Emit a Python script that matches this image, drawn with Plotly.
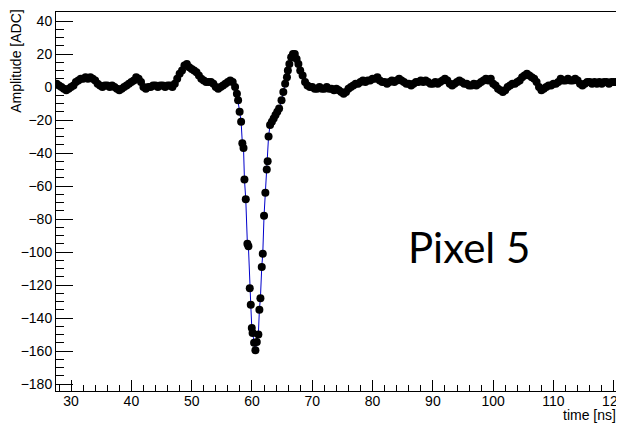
import plotly.graph_objects as go

# ---- data ----
time_pre = [27.6, 28.0, 28.4, 28.8, 29.2, 29.6, 30.0, 30.4, 30.8, 31.2, 31.6, 32.0, 32.4, 32.8, 33.2,
            33.6, 34.0, 34.4, 34.8, 35.2, 35.6, 36.0, 36.4, 36.8, 37.2, 37.6, 38.0, 38.4, 38.8, 39.2,
            39.6, 40.0, 40.4, 40.8, 41.2, 41.6, 42.0, 42.4, 42.8, 43.2, 43.6, 44.0, 44.4, 44.8, 45.2,
            45.6, 46.0, 46.4, 46.8, 47.2, 47.6, 48.0, 48.4, 48.8, 49.2, 49.6, 50.0, 50.4, 50.8, 51.2,
            51.6, 52.0, 52.4, 52.8, 53.2, 53.6, 54.0, 54.4, 54.8, 55.2, 55.6, 56.0, 56.4, 56.8, 57.2]
amp_pre = [2, 1, 0, -1, -2, -1, 0, 1, 3, 4, 5, 5, 6, 5, 6,
           5, 4, 2, 1, 0, 1, 1, 0, 1, 0, -1, -2, -1, 0, 1,
           2, 3, 4, 6, 5, 3, 0, -1, 0, 0, 1, 1, 0, 1, 1,
           0, 1, 1, 0, 2, 5, 8, 10, 13, 14, 12, 11, 10, 9, 7,
           5, 4, 3, 3, 3, 2, 0, -1, 0, 1, 2, 3, 4, 3, 0]

time_pulse = [57.5, 57.7, 57.95, 58.2, 58.4, 58.6, 58.75, 58.97, 59.24, 59.41, 59.63, 59.8, 59.97,
              60.1, 60.35, 60.57, 60.8, 61.06, 61.23, 61.4, 61.62, 61.79, 62.0, 62.22, 62.45, 62.6,
              62.75, 63.0, 63.3, 63.6, 63.9, 64.2, 64.5, 64.9, 65.2, 65.5, 65.8, 65.95, 66.2, 66.5,
              66.8, 67.1, 67.4, 67.7, 68.0, 68.4, 68.8, 69.2, 69.6]
amp_pulse = [-4, -8, -15, -21, -34, -37, -56, -68, -95, -96.5, -122, -132, -146,
             -149, -155, -159.5, -154.5, -150, -135, -128, -109, -101, -78, -64, -50, -45,
             -30, -23, -21, -19, -17, -15, -13, -8, -3, 2, 6, 10, 14, 18,
             20, 20, 17, 14, 10, 7, 3, 1, 0]

time_post = [70.0, 70.4, 70.8, 71.2, 71.6, 72.0, 72.4, 72.8, 73.2, 73.6, 74.0, 74.4, 74.8, 75.2, 75.6,
             76.0, 76.4, 76.8, 77.2, 77.6, 78.0, 78.4, 78.8, 79.2, 79.6, 80.0, 80.4, 80.8, 81.2, 81.6,
             82.0, 82.4, 82.8, 83.2, 83.6, 84.0, 84.4, 84.8, 85.2, 85.6, 86.0, 86.4, 86.8, 87.2, 87.6,
             88.0, 88.4, 88.8, 89.2, 89.6, 90.0, 90.4, 90.8, 91.2, 91.6, 92.0, 92.4, 92.8, 93.2, 93.6,
             94.0, 94.4, 94.8, 95.2, 95.6, 96.0, 96.4, 96.8, 97.2, 97.6, 98.0, 98.4, 98.8, 99.2, 99.6,
             100.0, 100.4, 100.8, 101.2, 101.6, 102.0, 102.4, 102.8, 103.2, 103.6, 104.0, 104.4, 104.8,
             105.2, 105.6, 106.0, 106.4, 106.8, 107.2, 107.6, 108.0, 108.4, 108.8, 109.2, 109.6, 110.0,
             110.4, 110.8, 111.2, 111.6, 112.0, 112.4, 112.8, 113.2, 113.6, 114.0, 114.4, 114.8, 115.2,
             115.6, 116.0, 116.4, 116.8, 117.2, 117.6, 118.0, 118.4, 118.8, 119.2, 119.6, 120.0, 120.4,
             120.8]
amp_post = [0, -1, -1, 0, -1, -1, 0, -1, -1, -2, -1, -2, -3, -4, -3,
            -1, 0, 1, 2, 2, 3, 4, 3, 4, 4, 5, 5, 6, 4, 3,
            3, 2, 3, 4, 3, 4, 5, 4, 3, 2, 2, 1, 2, 3, 3,
            4, 3, 4, 3, 2, 2, 3, 2, 3, 4, 5, 4, 2, 1, 2,
            3, 4, 3, 2, 2, 1, 1, 2, 1, 2, 3, 4, 5, 4, 5,
            2, 1, -1, -2, -3, -2, 0, 1, 2, 2, 3, 4, 6,
            7, 8, 7, 6, 5, 3, 0, -2, -1, 0, 1, 1, 2,
            2, 3, 5, 4, 4, 5, 4, 4, 5, 4, 2, 1, 2,
            3, 3, 2, 3, 2, 3, 2, 3, 3, 2, 3, 3, 3,
            3]

time_ns = time_pre + time_pulse + time_post
amplitude = amp_pre + amp_pulse + amp_post

x_range = [27.5, 120.7]
y_range = [-184.2, 45.5]
label_text = "Pixel 5"

fig = go.Figure()
fig.add_trace(go.Scatter(
    x=time_ns, y=amplitude, mode="lines+markers",
    line=dict(color="#0000cc", width=1),
    marker=dict(color="black", size=8),
    showlegend=False, hoverinfo="x+y", cliponaxis=True,
))

axis_font = dict(family="Liberation Sans, Arial, sans-serif", size=14, color="black")

# The page body has an 8 px margin, so the figure is sized 616x416 and margins
# are reduced by 8 px on the left/top to land on the reference positions.
fig.update_layout(
    width=616, height=416,
    margin=dict(l=48, r=6, t=4, b=33),
    paper_bgcolor="white", plot_bgcolor="white",
    font=axis_font,
    xaxis=dict(
        range=x_range, showgrid=False, zeroline=False, automargin=False,
        showline=True, linecolor="black", linewidth=1, mirror=True,
        ticks="inside", ticklen=11, tickcolor="black", tickwidth=1,
        tick0=0, dtick=10, tickfont=axis_font, ticklabeloverflow="allow",
        ticklabelstandoff=-3,
        minor=dict(ticks="inside", ticklen=6, tickcolor="black", dtick=2, tick0=0, showgrid=False),
    ),
    yaxis=dict(
        range=y_range, showgrid=False, zeroline=False, automargin=False,
        showline=True, linecolor="black", linewidth=1, mirror=True,
        ticks="inside", ticklen=17, tickcolor="black", tickwidth=1,
        tick0=0, dtick=20, tickfont=axis_font, ticklabeloverflow="allow",
        minor=dict(ticks="inside", ticklen=8, tickcolor="black", dtick=5, tick0=0, showgrid=False),
    ),
    annotations=[
        dict(text="Amplitude [ADC]", xref="paper", yref="paper",
             x=-0.071, y=1.01, xanchor="center", yanchor="top", textangle=-90,
             showarrow=False, font=dict(family="Liberation Sans, Arial, sans-serif", size=14, color="black")),
        dict(text="time [ns]", xref="paper", yref="paper",
             x=1.0, y=-0.091, xanchor="right", yanchor="bottom",
             showarrow=False, font=dict(family="Liberation Sans, Arial, sans-serif", size=14, color="black")),
        dict(text=label_text, xref="x", yref="y", x=96.0, y=-97,
             xanchor="center", yanchor="middle", showarrow=False,
             font=dict(family="Lato, Open Sans, sans-serif", size=42, color="black")),
    ],
)

fig.write_html("out.html")
